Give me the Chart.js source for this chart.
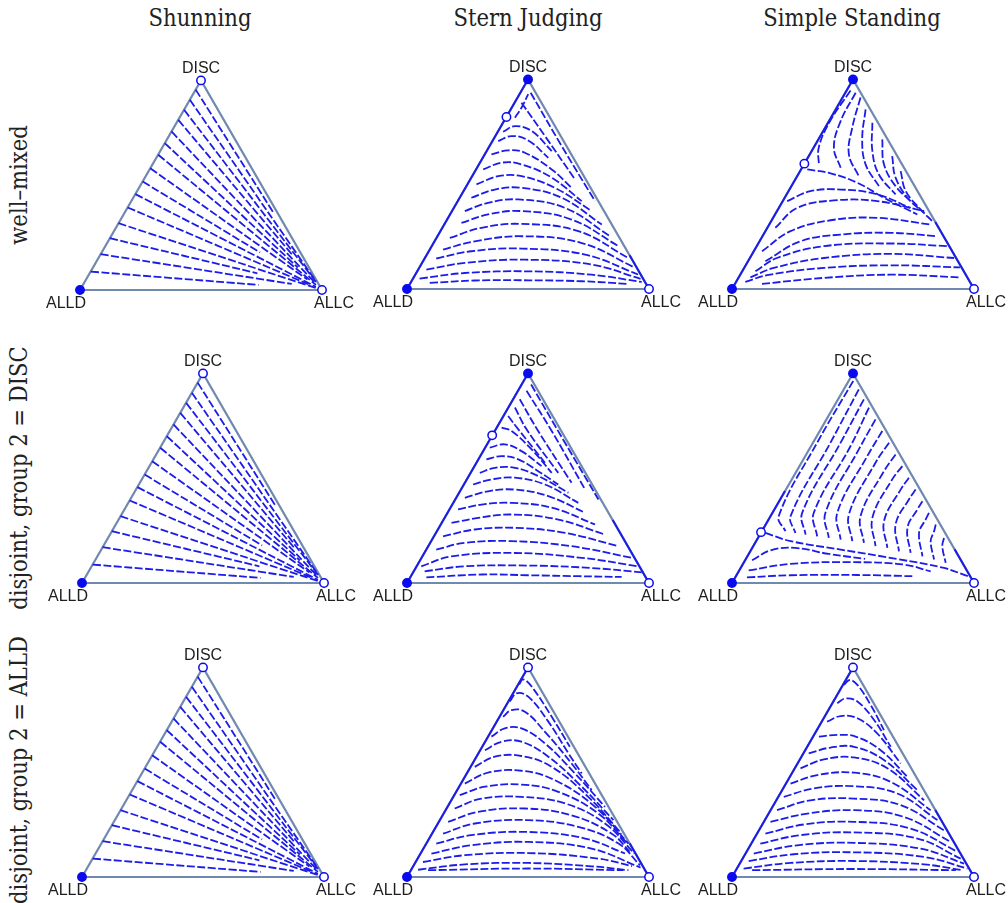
<!DOCTYPE html>
<html>
<head>
<meta charset="utf-8">
<script src="https://cdn.jsdelivr.net/npm/chart.js@4.4.1/dist/chart.umd.min.js"></script>
<style>
body { margin: 0; background: #fff; width: 1008px; height: 903px; position: relative; overflow: hidden; }
canvas { position: absolute; }
.col-title { position: absolute; top: 4px; font: 23.5px "DejaVu Serif Condensed", "DejaVu Serif", serif; color: #222; transform: translateX(-50%); white-space: nowrap; }
.row-title { position: absolute; left: 19px; font: 23.5px "DejaVu Serif Condensed", "DejaVu Serif", serif; color: #222; transform: translate(-50%, -50%) rotate(-90deg); white-space: nowrap; }
</style>
</head>
<body>
<div class="col-title" style="left:200px">Shunning</div>
<div class="col-title" style="left:528px">Stern Judging</div>
<div class="col-title" style="left:852px">Simple Standing</div>
<div class="row-title" style="top:185px">well–mixed</div>
<div class="row-title" style="top:478px">disjoint, group 2 = DISC</div>
<div class="row-title" style="top:770px">disjoint, group 2 = ALLD</div>
<script>
// Simplex frame: ALLD = (0,0), ALLC = (100,0), DISC = (50,86.6)
const corners = [[0, 0], [100, 0], [50, 86.6], [0, 0]];
const cornerNames = ['ALLD', 'ALLC', 'DISC'];

// Fixed points: x, y, stable (1 = filled) or unstable (0 = open)
const shunningFixed = [[0, 0, 1], [100, 0, 0], [50, 86.6, 0]];
const sternMixedFixed = [[0, 0, 1], [100, 0, 0], [50, 86.6, 1], [41.1, 71.1, 0]];
const standingMixedFixed = [[0, 0, 1], [100, 0, 0], [50, 86.6, 1], [29.9, 51.8, 0]];
const sternDiscFixed = [[0, 0, 1], [100, 0, 0], [50, 86.6, 1], [35.2, 61.0, 0]];
const standingDiscFixed = [[0, 0, 1], [100, 0, 0], [50, 86.6, 1], [12.0, 21.0, 0]];
const alldFixed = [[0, 0, 1], [100, 0, 0], [50, 86.6, 0]];

// Flow along the simplex edges
const sternMixedEdges = [[[0, 0], [50, 86.6]], [[100, 0], [92, 13.9]]];
const standingMixedEdges = [[[0, 0], [50, 86.6]], [[100, 0], [84, 27.7]]];
const sternDiscEdges = [[[0, 0], [50, 86.6]], [[100, 0], [85, 26]]];
const standingDiscEdges = [[[0, 0], [21.9, 38]], [[100, 0], [92, 13.9]]];
const sternAlldEdges = [[[0, 0], [50, 86.6]], [[100, 0], [92, 13.9]]];
const standingAlldEdges = [[[0, 0], [50, 86.6]], [[100, 0], [84, 27.7]]];

// Stream lines
const shunningLines = [
  [[47.8, 82.8], [79.9, 32.0]],
  [[45.4, 78.6], [97.5, 3.6]],
  [[43.0, 74.5], [97.5, 3.3]],
  [[40.6, 70.3], [88.0, 14.2]],
  [[37.8, 65.5], [97.5, 2.6]],
  [[35.0, 60.7], [90.0, 9.3]],
  [[32.3, 55.9], [97.5, 2.1]],
  [[29.0, 50.3], [94.0, 4.3]],
  [[25.9, 44.8], [74.4, 15.5]],
  [[22.9, 39.6], [97.5, 1.3]],
  [[19.7, 34.1], [94.3, 2.4]],
  [[15.9, 27.6], [97.5, 0.8]],
  [[12.3, 21.4], [73.3, 6.9]],
  [[8.5, 14.8], [87.5, 2.5]],
  [[4.4, 7.6], [73.8, 2.1]]
];

const sternMixedLines = [
  [[9.4, 2.5], [28.0, 3.5], [50.1, 3.6], [72.2, 3.2], [91.5, 2.1]],
  [[5.2, 4.3], [23.9, 6.6], [50.1, 7.3], [76.3, 5.9], [97.0, 2.9]],
  [[8.0, 8.0], [23.9, 10.8], [48.7, 12.1], [76.3, 10.1], [96.5, 4.2]],
  [[12.1, 12.6], [26.6, 15.6], [47.3, 16.7], [73.6, 14.2], [95.5, 6.0]],
  [[14.9, 16.3], [28.0, 19.7], [47.3, 21.8], [72.2, 19.0], [94.0, 8.9]],
  [[17.7, 21.1], [30.8, 25.3], [47.3, 26.9], [70.8, 23.9], [91.5, 12.8]],
  [[22.5, 27.3], [33.5, 30.8], [47.3, 32.2], [68.0, 28.7], [87.4, 17.7]],
  [[23.9, 32.2], [33.5, 35.6], [46.0, 37.0], [65.3, 33.5], [83.9, 21.8]],
  [[26.6, 37.7], [36.3, 41.1], [47.3, 41.8], [63.9, 37.7], [80.5, 26.6]],
  [[28.7, 43.2], [37.7, 46.6], [47.3, 46.6], [61.1, 41.8], [76.3, 32.2]],
  [[31.5, 49.4], [39.1, 52.2], [47.3, 51.5], [59.8, 46.0], [72.2, 36.3]],
  [[34.9, 55.6], [41.8, 57.3], [48.7, 56.3], [59.8, 49.4], [68.0, 41.8]],
  [[37.7, 61.1], [43.2, 63.2], [50.1, 61.4], [58.4, 54.2]],
  [[39.7, 65.0], [44.6, 67.3], [51.5, 65.3], [59.8, 57.0]],
  [[51.1, 81.1], [63.9, 59.1], [77.7, 36.3]],
  [[47.3, 77.0], [57.0, 63.2], [69.4, 45.3]],
  [[44.6, 70.8], [47.3, 74.9], [50.1, 80.5]]
];

const standingMixedLines = [
  [[12.4, 2.1], [38.0, 4.6], [65.6, 5.9], [94.5, 4.8]],
  [[5.5, 2.9], [14.5, 5.7], [38.0, 8.7], [65.6, 9.8], [94.2, 8.9]],
  [[7.6, 4.8], [17.3, 8.7], [38.0, 12.8], [65.6, 14.5], [91.8, 12.8]],
  [[9.7, 7.3], [18.6, 12.8], [38.0, 17.7], [65.6, 18.8], [89.0, 17.7]],
  [[13.8, 11.5], [28.3, 19.7], [44.9, 22.5], [65.6, 23.2], [84.9, 21.8]],
  [[12.4, 15.6], [24.2, 23.9], [40.7, 28.4], [60.0, 29.4], [82.1, 26.6]],
  [[17.9, 25.3], [26.9, 33.5], [42.1, 36.6], [60.0, 36.3], [79.4, 32.2]],
  [[22.8, 36.3], [32.4, 40.4], [44.9, 41.1], [60.0, 39.1], [73.8, 33.5]],
  [[31.1, 49.4], [40.7, 47.8], [51.8, 43.9], [62.8, 37.7], [76.6, 30.8]],
  [[49.0, 82.0], [40.7, 69.7], [35.9, 58.7], [35.9, 51.1]],
  [[51.1, 81.1], [44.9, 69.4], [42.1, 58.4], [44.9, 50.1]],
  [[53.1, 79.1], [49.7, 66.7], [48.3, 55.6], [52.4, 46.6]],
  [[55.2, 74.2], [53.8, 61.8], [55.2, 51.5], [60.7, 42.5]],
  [[58.0, 68.7], [58.0, 57.0], [60.7, 47.3], [67.6, 39.1]],
  [[62.1, 61.8], [62.8, 51.5], [67.6, 42.5], [74.5, 35.6]],
  [[66.2, 54.9], [67.6, 46.0], [73.1, 37.0], [79.4, 31.5]],
  [[69.7, 48.7], [71.8, 40.4], [78.0, 32.8], [82.8, 28.0]]
];

const sternDiscLines = [
  [[8.0, 2.3], [30.8, 3.5], [50.1, 3.2], [70.8, 2.8], [88.7, 2.5]],
  [[7.3, 4.8], [23.9, 6.9], [50.1, 7.2], [76.3, 6.2], [97.0, 4.4]],
  [[5.9, 6.9], [18.4, 11.0], [44.6, 12.4], [72.2, 10.4], [95.6, 6.9]],
  [[12.1, 13.8], [23.9, 16.6], [43.2, 17.3], [68.0, 15.2], [92.9, 10.4]],
  [[14.9, 19.3], [28.0, 22.1], [44.6, 22.8], [65.3, 20.7], [87.4, 15.2]],
  [[18.4, 24.8], [29.4, 26.9], [43.2, 28.3], [62.5, 26.2], [81.8, 20.0]],
  [[21.1, 30.4], [30.8, 32.4], [43.2, 33.1], [59.8, 31.1], [77.7, 24.2]],
  [[23.9, 35.2], [33.5, 37.9], [44.6, 38.6], [58.4, 35.9], [73.6, 29.0]],
  [[27.3, 40.7], [34.9, 42.8], [44.6, 43.5], [57.0, 40.7], [70.8, 33.1]],
  [[30.1, 45.5], [36.3, 47.6], [44.6, 47.6], [54.2, 44.2], [66.7, 37.3]],
  [[32.8, 51.1], [39.1, 52.4], [46.0, 51.1], [54.2, 46.2], [62.5, 40.7]],
  [[34.2, 55.9], [40.4, 57.3], [47.3, 54.5], [55.6, 48.3]],
  [[51.3, 82.0], [64.5, 59.3], [79.1, 34.5]],
  [[49.4, 79.4], [59.8, 62.8], [73.6, 38.6]],
  [[46.6, 75.9], [54.2, 62.8], [68.0, 41.4]],
  [[44.6, 72.5], [49.4, 63.5], [62.5, 45.5]],
  [[41.8, 69.0], [46.0, 63.5], [57.0, 49.7]],
  [[39.1, 64.2], [43.2, 62.8], [51.5, 55.2], [59.8, 45.5]]
];

const standingDiscLines = [
  [[50.1, 83.5], [35.2, 58.0], [19.3, 27.6], [22.1, 21.4]],
  [[52.4, 80.0], [40.7, 58.0], [24.2, 27.6], [26.2, 20.7]],
  [[54.5, 75.9], [44.9, 58.0], [29.0, 29.0], [30.4, 20.0]],
  [[56.6, 72.5], [49.0, 56.6], [33.8, 29.0], [35.2, 19.3]],
  [[59.3, 67.6], [52.4, 55.2], [38.6, 29.0], [40.0, 18.6]],
  [[62.1, 62.8], [55.9, 52.4], [43.5, 29.0], [44.9, 17.9]],
  [[64.9, 58.0], [59.3, 49.7], [48.3, 28.3], [49.7, 17.3]],
  [[67.6, 53.1], [62.8, 46.2], [53.1, 27.6], [54.5, 16.6]],
  [[70.4, 48.3], [66.2, 42.8], [58.0, 26.9], [59.3, 15.2]],
  [[73.1, 43.5], [69.7, 38.6], [62.8, 25.5], [64.2, 14.5]],
  [[75.9, 38.6], [73.1, 34.5], [67.6, 24.2], [69.0, 13.1]],
  [[78.7, 33.8], [76.6, 30.4], [72.5, 22.8], [73.8, 12.4]],
  [[81.4, 29.0], [80.0, 26.2], [77.3, 20.7], [78.7, 11.0]],
  [[84.2, 24.2], [83.5, 21.4], [82.1, 17.3], [83.5, 9.7]],
  [[87.6, 18.6], [86.9, 15.2], [88.3, 8.3]],
  [[13.8, 20.7], [24.2, 17.3], [44.9, 13.8], [68.3, 9.9], [87.6, 6.2], [97.5, 2.8]],
  [[6.2, 2.3], [24.2, 3.2], [51.8, 3.3], [74.5, 2.8]],
  [[6.9, 5.2], [24.2, 7.9], [49.0, 8.6], [71.1, 7.6], [82.1, 4.8]],
  [[8.3, 9.4], [16.0, 13.5], [26.0, 14.5], [40.0, 12.0], [55.0, 10.0]]
];

const sternAlldLines = [
  [[46.4, 79.6], [48.0, 81.7], [51.5, 78.7], [59.8, 66.2], [67.3, 53.8]],
  [[42.5, 72.5], [45.3, 75.9], [50.1, 74.5], [58.4, 64.2], [66.7, 51.1], [72.2, 42.8]],
  [[39.7, 66.2], [43.2, 69.0], [48.7, 68.3], [57.0, 60.0], [68.0, 46.9], [76.3, 35.9]],
  [[34.9, 58.0], [40.4, 61.4], [47.3, 61.4], [57.0, 55.2], [69.4, 42.8], [81.8, 29.0]],
  [[32.2, 52.4], [39.1, 55.9], [47.3, 55.9], [58.4, 49.7], [72.2, 37.3], [85.3, 23.5]],
  [[28.0, 45.5], [36.3, 49.7], [47.3, 50.0], [59.8, 45.5], [74.9, 33.1], [88.7, 17.9]],
  [[23.9, 38.6], [33.5, 43.1], [47.3, 43.9], [61.1, 40.0], [77.7, 29.0], [91.5, 13.8]],
  [[21.8, 33.8], [32.2, 37.3], [47.3, 38.2], [62.5, 35.2], [79.1, 26.2], [90.5, 14.5]],
  [[19.7, 28.3], [30.8, 32.4], [47.3, 33.1], [65.3, 30.4], [81.8, 22.1], [94.0, 9.7]],
  [[17.0, 22.8], [29.4, 26.9], [48.7, 28.3], [68.0, 25.5], [84.6, 17.9], [92.0, 10.5]],
  [[14.9, 17.9], [28.0, 22.1], [50.1, 23.5], [70.8, 20.7], [87.4, 13.8], [96.3, 4.8]],
  [[12.1, 13.8], [26.6, 17.3], [50.1, 18.6], [73.6, 15.9], [90.1, 9.7]],
  [[10.1, 9.7], [26.6, 13.1], [50.1, 14.5], [76.3, 11.7], [96.5, 3.9]],
  [[6.6, 6.2], [23.9, 9.0], [50.1, 9.9], [79.1, 7.6], [93.0, 4.5]],
  [[4.6, 3.0], [23.9, 5.2], [50.1, 5.8], [76.3, 4.4], [91.5, 2.8]],
  [[8.7, 2.8], [50.1, 3.5], [89.4, 2.8]]
];

const standingAlldLines = [
  [[46.2, 79.4], [48.7, 81.4], [51.8, 79.4], [57.3, 71.1], [62.8, 60.7]],
  [[43.5, 71.8], [46.9, 73.8], [51.8, 72.5], [58.7, 64.9], [65.6, 53.8]],
  [[39.3, 64.2], [44.9, 66.5], [51.8, 65.6], [60.0, 59.3], [69.7, 46.9]],
  [[35.9, 58.0], [43.5, 58.7], [51.1, 58.0], [61.4, 52.4], [72.5, 41.4]],
  [[31.7, 51.1], [40.7, 53.5], [50.4, 53.8], [62.8, 48.3], [76.6, 35.9]],
  [[28.3, 44.9], [38.0, 48.6], [50.4, 49.4], [64.2, 44.9], [79.4, 31.7]],
  [[24.2, 38.6], [35.2, 42.1], [50.4, 43.1], [65.6, 39.3], [82.1, 27.6]],
  [[21.4, 33.1], [33.8, 36.6], [50.4, 37.5], [68.3, 34.5], [84.9, 23.5]],
  [[18.6, 27.6], [32.4, 31.7], [50.4, 32.4], [69.7, 29.7], [87.6, 19.3]],
  [[15.9, 22.8], [31.1, 26.2], [50.4, 27.6], [71.1, 24.8], [90.4, 14.5]],
  [[13.8, 17.9], [29.7, 21.7], [50.4, 22.8], [73.8, 20.0], [93.2, 10.4]],
  [[11.7, 13.8], [28.3, 17.3], [50.4, 18.4], [76.6, 15.9], [94.5, 7.6]],
  [[9.0, 9.7], [26.9, 13.1], [50.4, 14.1], [77.9, 11.7], [95.9, 5.5]],
  [[6.9, 6.6], [25.5, 9.4], [50.4, 10.2], [79.4, 8.3], [97.3, 3.5]],
  [[4.8, 3.5], [24.2, 5.8], [50.4, 6.6], [79.4, 5.2], [95.2, 2.8]],
  [[8.3, 2.8], [50.4, 3.3], [92.5, 2.8]]
];

// Where each simplex goes on the page (canvas top-left corner)
const panels = [
  { left: 36, top: 50, lines: shunningLines, edges: [], fixed: shunningFixed },
  { left: 363, top: 49, lines: sternMixedLines, edges: sternMixedEdges, fixed: sternMixedFixed },
  { left: 688, top: 49, lines: standingMixedLines, edges: standingMixedEdges, fixed: standingMixedFixed },
  { left: 38, top: 343, lines: shunningLines, edges: [], fixed: shunningFixed },
  { left: 363, top: 343, lines: sternDiscLines, edges: sternDiscEdges, fixed: sternDiscFixed },
  { left: 688, top: 343, lines: standingDiscLines, edges: standingDiscEdges, fixed: standingDiscFixed },
  { left: 38, top: 637, lines: shunningLines, edges: [], fixed: alldFixed },
  { left: 363, top: 637, lines: sternAlldLines, edges: sternAlldEdges, fixed: alldFixed },
  { left: 688, top: 637, lines: standingAlldLines, edges: standingAlldEdges, fixed: alldFixed }
];

const flowBlue = 'rgb(28, 28, 232)';
const dotBlue = 'rgb(10, 10, 240)';
const edgeGray = '#7089b0';

function toPoints(list) {
  return list.map(p => ({ x: p[0], y: p[1] }));
}

// Draw the ALLD / ALLC / DISC names next to the corners
const cornerLabels = {
  id: 'cornerLabels',
  afterDatasetsDraw(chart) {
    const ctx = chart.ctx;
    const xs = chart.scales.x;
    const ys = chart.scales.y;
    const shift = [[-14, 14], [12, 14], [0, -12]];
    ctx.save();
    ctx.font = '16px "Liberation Sans", Arial, sans-serif';
    ctx.fillStyle = '#1e1e1e';
    ctx.textAlign = 'center';
    ctx.textBaseline = 'middle';
    for (let i = 0; i < 3; i++) {
      ctx.fillText(cornerNames[i],
        xs.getPixelForValue(corners[i][0]) + shift[i][0],
        ys.getPixelForValue(corners[i][1]) + shift[i][1]);
    }
    ctx.restore();
  }
};

function draw_panel(panel) {
  const canvas = document.createElement('canvas');
  canvas.width = 330;
  canvas.height = 270;
  canvas.style.left = panel.left + 'px';
  canvas.style.top = panel.top + 'px';
  document.body.appendChild(canvas);

  const datasets = [];

  // Fixed points on top
  datasets.push({
    data: toPoints(panel.fixed),
    showLine: false,
    pointRadius: 4.2,
    pointBorderWidth: 1.5,
    pointBorderColor: dotBlue,
    pointBackgroundColor: panel.fixed.map(f => f[2] ? dotBlue : '#ffffff'),
    order: 0,
    clip: false
  });

  panel.lines.forEach(line => {
    datasets.push({
      data: toPoints(line),
      borderColor: flowBlue,
      borderWidth: 1.8,
      borderDash: [8, 2.5],
      pointRadius: 0,
      tension: 0.4,
      order: 1
    });
  });

  panel.edges.forEach(edge => {
    datasets.push({
      data: toPoints(edge),
      borderColor: flowBlue,
      borderWidth: 2,
      pointRadius: 0,
      tension: 0,
      order: 2
    });
  });

  // Simplex outline
  datasets.push({
    data: toPoints(corners),
    borderColor: edgeGray,
    borderWidth: 2.2,
    pointRadius: 0,
    tension: 0,
    order: 3
  });

  new Chart(canvas, {
    type: 'line',
    data: { datasets: datasets },
    options: {
      responsive: false,
      animation: false,
      events: [],
      layout: { padding: 0, autoPadding: false },
      plugins: { legend: { display: false }, tooltip: { enabled: false } },
      scales: {
        x: { type: 'linear', min: -18.18, max: 118.18, display: false },
        y: { type: 'linear', min: -12.4, max: 99.17, display: false }
      }
    },
    plugins: [cornerLabels]
  });
}

panels.forEach(p => draw_panel(p));
</script>
</body>
</html>
